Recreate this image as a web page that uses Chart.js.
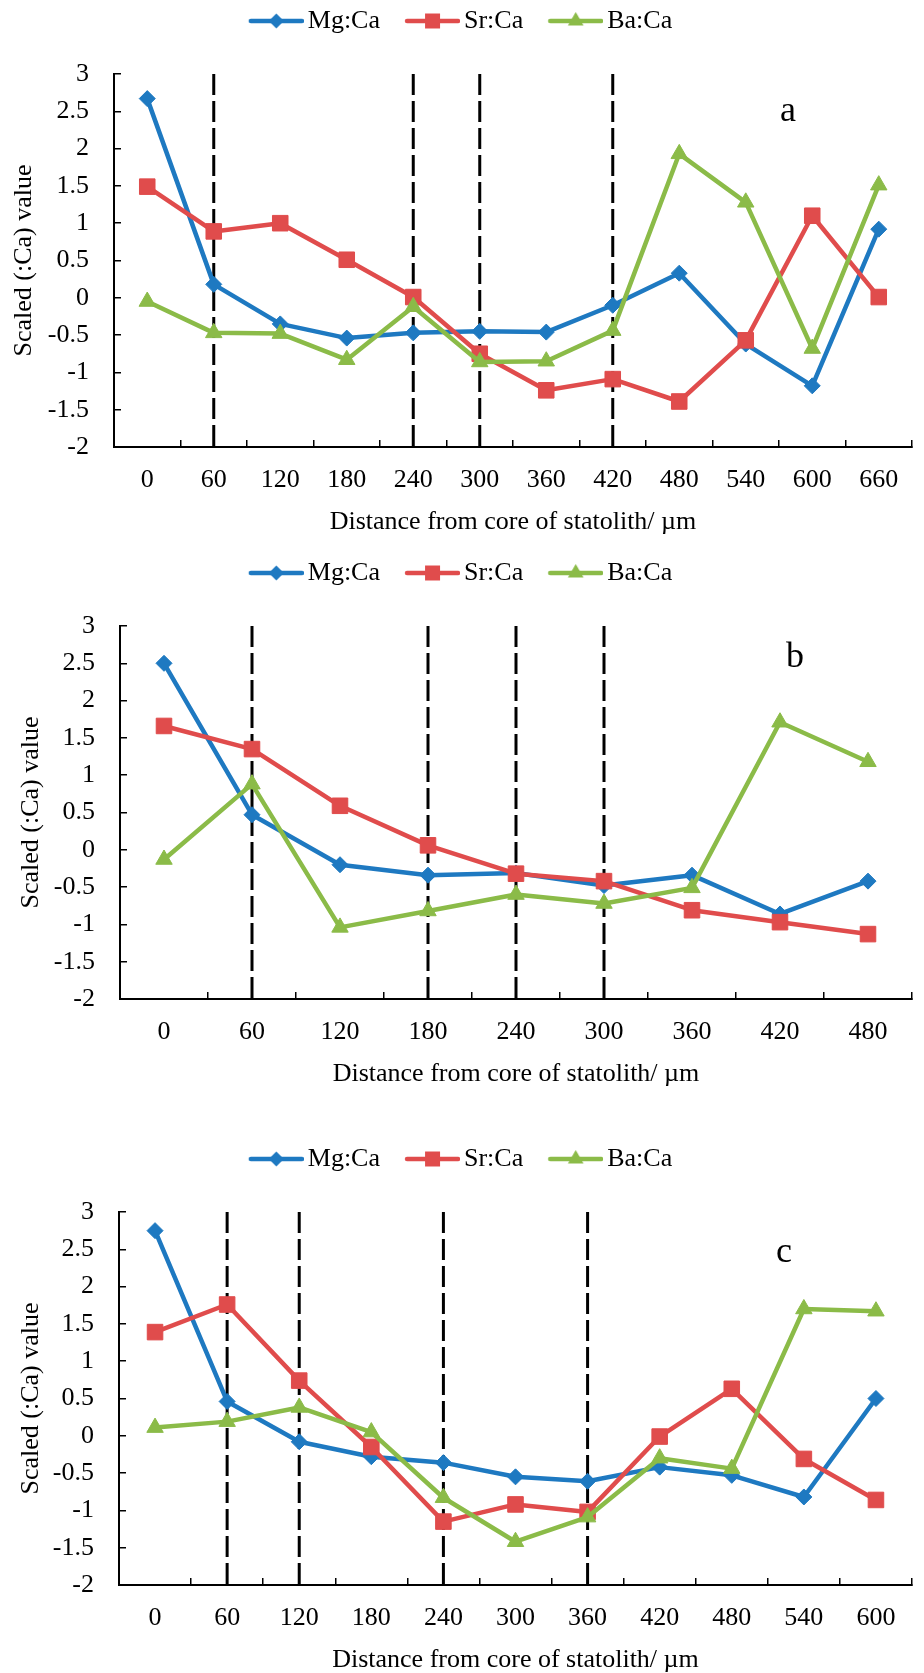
<!DOCTYPE html>
<html><head><meta charset="utf-8">
<script src="https://cdn.jsdelivr.net/npm/chart.js@4.4.1/dist/chart.umd.min.js"></script>
<style>
html,body{margin:0;padding:0;background:#fff;width:924px;height:1673px;overflow:hidden;position:relative;}
.wrap{position:absolute;left:0;width:924px;height:560px;}
.wrap canvas{display:block;width:924px;height:560px;}
.tag{position:absolute;width:60px;text-align:center;font-family:'Liberation Serif','Times New Roman',serif;font-size:36px;line-height:36px;color:#000;}
</style></head><body>
<div class="wrap" style="top:-17px"><canvas id="ca" width="924" height="560"></canvas></div>
<div class="wrap" style="top:535px"><canvas id="cb" width="924" height="560"></canvas></div>
<div class="wrap" style="top:1121px"><canvas id="cc" width="924" height="560"></canvas></div>
<div class="tag" style="left:758px;top:91px">a</div>
<div class="tag" style="left:765px;top:637px">b</div>
<div class="tag" style="left:754px;top:1232px">c</div>
<script>
// ---- data ----
const seriesNames = ['Mg:Ca', 'Sr:Ca', 'Ba:Ca'];
const xTitle = 'Distance from core of statolith/ \u00b5m';
const yTitle = 'Scaled (:Ca) value';

const catsA = ['0','60','120','180','240','300','360','420','480','540','600','660'];
const mgA = [2.67, 0.18, -0.35, -0.54, -0.47, -0.45, -0.46, -0.10, 0.33, -0.62, -1.18, 0.92];
const srA = [1.49, 0.89, 1.00, 0.51, 0.01, -0.75, -1.24, -1.09, -1.39, -0.57, 1.10, 0.01];
const baA = [-0.05, -0.47, -0.48, -0.83, -0.12, -0.86, -0.85, -0.44, 1.93, 1.28, -0.68, 1.51];
const dashA = ['60','240','300','420'];

const catsB = ['0','60','120','180','240','300','360','420','480'];
const mgB = [2.50, 0.47, -0.20, -0.34, -0.31, -0.48, -0.34, -0.86, -0.42];
const srB = [1.66, 1.35, 0.59, 0.06, -0.32, -0.42, -0.81, -0.97, -1.13];
const baB = [-0.13, 0.88, -1.04, -0.82, -0.60, -0.72, -0.51, 1.71, 1.18];
const dashB = ['60','180','240','300'];

const catsC = ['0','60','120','180','240','300','360','420','480','540','600'];
const mgC = [2.75, 0.46, -0.08, -0.28, -0.36, -0.55, -0.61, -0.42, -0.53, -0.82, 0.50];
const srC = [1.39, 1.76, 0.74, -0.15, -1.15, -0.92, -1.02, -0.01, 0.63, -0.31, -0.86];
const baC = [0.11, 0.19, 0.38, 0.05, -0.83, -1.42, -1.09, -0.30, -0.44, 1.70, 1.67];
const dashC = ['60','120','240','360'];

const yMin = -2, yMax = 3, yStep = 0.5;

// ---- styles ----
const colors = ['#1E79C1', '#E04C4C', '#8BBB48'];
const pStyles = ['rectRot', 'rect', 'triangle'];
const pRadius = [8, 11, 9.5];

Chart.defaults.font.family = "'Liberation Serif', 'Times New Roman', serif";
Chart.defaults.font.size = 26;
Chart.defaults.color = '#000';

function makeIcon(i) {
  const c = document.createElement('canvas');
  c.width = 64; c.height = 24;
  const g = c.getContext('2d');
  g.strokeStyle = colors[i]; g.fillStyle = colors[i];
  g.lineWidth = 4.5; g.lineCap = 'round';
  g.beginPath(); g.moveTo(11, 12); g.lineTo(62, 12); g.stroke();
  const cx = 36.5, cy = 12;
  g.beginPath();
  if (i === 0) { g.moveTo(cx - 7.5, cy); g.lineTo(cx, cy - 7.5); g.lineTo(cx + 7.5, cy); g.lineTo(cx, cy + 7.5); g.closePath(); }
  else if (i === 1) { g.rect(cx - 7.5, cy - 7.5, 15, 15); }
  else { g.moveTo(cx, cy - 9); g.lineTo(cx + 7.8, cy + 4.5); g.lineTo(cx - 7.8, cy + 4.5); g.closePath(); }
  g.fill();
  return c;
}
const icons = [makeIcon(0), makeIcon(1), makeIcon(2)];

const legendHeightPlugin = {
  id: 'legendHeight',
  beforeUpdate(chart) {
    const lg = chart.legend;
    if (lg && !lg._patched) {
      const orig = lg.fit;
      lg.fit = function () { orig.call(this); this.height = 91; };
      lg._patched = true;
    }
  }
};

function makeChart(id, cats, mg, sr, ba, dashes, yAxisWidth, yTitlePad) {
  const vals = [mg, sr, ba];
  const datasets = vals.map((v, i) => ({
    label: seriesNames[i],
    data: v,
    borderColor: colors[i],
    backgroundColor: colors[i],
    borderWidth: 4.5,
    borderJoinStyle: 'round',
    borderCapStyle: 'round',
    pointStyle: pStyles[i],
    pointRadius: pRadius[i],
    pointHoverRadius: pRadius[i],
    pointBackgroundColor: colors[i],
    pointBorderColor: colors[i],
    pointBorderWidth: 1,
    tension: 0,
    order: 3 - i
  }));
  dashes.forEach(d => {
    datasets.push({
      label: '_guide',
      data: [{x: d, y: yMax}, {x: d, y: yMin}],
      borderColor: '#000',
      borderWidth: 3,
      borderDash: [21, 6],
      pointRadius: 0,
      pointHoverRadius: 0,
      fill: false,
      order: 10
    });
  });
  return new Chart(document.getElementById(id), {
    type: 'line',
    data: { labels: cats, datasets },
    plugins: [legendHeightPlugin],
    options: {
      responsive: false,
      animation: false,
      devicePixelRatio: 1,
      layout: { padding: { top: 0, right: 3, bottom: 0, left: 0 } },
      plugins: {
        tooltip: { enabled: false },
        legend: {
          position: 'top',
          labels: {
            usePointStyle: true,
            pointStyleWidth: 46,
            padding: 25,
            color: '#000',
            font: { size: 26 },
            filter: item => item.datasetIndex < 3,
            sort: (a, b) => a.datasetIndex - b.datasetIndex,
            generateLabels: chart => {
              const items = Chart.defaults.plugins.legend.labels.generateLabels(chart);
              items.forEach(it => { if (it.datasetIndex < 3) it.pointStyle = icons[it.datasetIndex]; });
              return items;
            }
          }
        }
      },
      scales: {
        x: {
          type: 'category',
          offset: true,
          grid: { offset: true, drawOnChartArea: false, drawTicks: true, tickLength: -7, color: '#000', lineWidth: 1.5 },
          border: { color: '#000', width: 2 },
          ticks: { padding: 25, color: '#000', font: { size: 26 }, maxRotation: 0, autoSkip: false },
          title: { display: true, text: xTitle, color: '#000', font: { size: 26 }, padding: { top: 0, bottom: 5 } },
          afterFit: s => { s.height = 96; }
        },
        y: {
          min: yMin, max: yMax,
          grid: { drawOnChartArea: false, drawTicks: true, tickLength: -7, color: '#000', lineWidth: 1.5 },
          border: { color: '#000', width: 2 },
          ticks: { stepSize: yStep, padding: 32, color: '#000', font: { size: 26 }, callback: v => String(v) },
          title: { display: true, text: yTitle, color: '#000', font: { size: 26 }, padding: { top: yTitlePad, bottom: 0 } },
          afterFit: s => { s.width = yAxisWidth; }
        }
      }
    }
  });
}

makeChart('ca', catsA, mgA, srA, baA, dashA, 114, 9);
makeChart('cb', catsB, mgB, srB, baB, dashB, 120, 16);
makeChart('cc', catsC, mgC, srC, baC, dashC, 119, 16);
</script>
</body></html>
